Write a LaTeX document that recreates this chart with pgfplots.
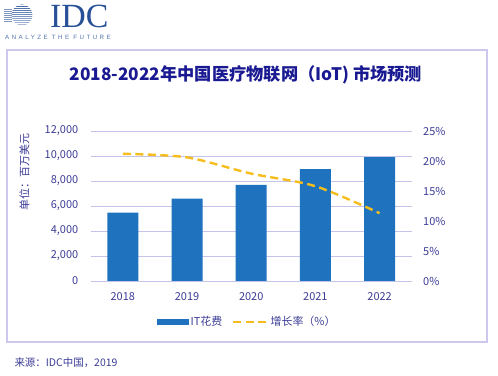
\documentclass[border=0pt]{standalone}
\usepackage{pgfplots}
\pgfplotsset{compat=1.18}
\usepackage{fontspec}
\setmainfont{Noto Sans CJK SC}
\newfontfamily\logoserif{Liberation Serif}
\newfontfamily\logosans[LetterSpace=40]{Liberation Sans}
\definecolor{barblue}{RGB}{31,114,189}
\definecolor{lineyel}{RGB}{245,190,30}
\definecolor{txt}{RGB}{60,60,150}
\definecolor{ttl}{RGB}{25,25,145}
\definecolor{gridc}{RGB}{195,195,235}
\definecolor{framec}{RGB}{205,200,238}
\definecolor{logoblue}{RGB}{40,80,150}
\begin{document}
\begin{tikzpicture}
\path[use as bounding box] (0bp,0bp) rectangle (498bp,376bp);
\begin{scope}[x=1bp,y=1bp]
% logo
\begin{scope}
\clip (22,361) circle (10.5);
\foreach \i in {0,...,10} {
  \pgfmathsetmacro{\c}{40+5*\i}
  \fill[logoblue!\c!white] (8,350.5+2*\i) rectangle (36,351.6+2*\i);
}
\end{scope}
\foreach \i in {2,...,8} {
  \fill[logoblue!60!white] (4,350.5+2*\i) rectangle (12,351.4+2*\i);
}
\node[anchor=west, inner sep=0, font=\logoserif\fontsize{34}{34}\selectfont, text=logoblue] at (50,360) {IDC};
\node[anchor=west, inner sep=0, font=\logosans\fontsize{6.2}{6.2}\selectfont, text=logoblue!80] at (5,339) {ANALYZE THE FUTURE};
% frame
\draw[framec, line width=1.2bp] (7,34) rectangle (487,326);
% title
\node[font=\bfseries\fontsize{17.3}{18}\selectfont, text=ttl] at (246,301) {2018-2022年中国医疗物联网（IoT) 市场预测};
% y label
\node[rotate=90, font=\fontsize{11}{11}\selectfont, text=txt] at (24.5,204) {单位：百万美元};
% source
\node[anchor=west, font=\fontsize{10.5}{11}\selectfont, text=txt] at (11,13) {来源：IDC中国，2019};
\end{scope}

\begin{axis}[
  at={(90.7bp,95bp)}, anchor=south west, scale only axis,
  width=321bp, height=150bp,
  xmin=-0.5, xmax=4.5, ymin=0, ymax=12000,
  xtick={0,1,2,3,4}, xticklabels={2018,2019,2020,2021,2022},
  ytick={0,2000,4000,6000,8000,10000,12000},
  scaled y ticks=false,
  /pgf/number format/assume math mode=true,
  /pgf/number format/1000 sep={,},
  ymajorgrids, grid style={gridc, line width=0.9bp},
  axis line style={draw=none},
  major tick length=0pt,
  tick label style={font=\fontsize{11}{12}\selectfont, text=txt},
  yticklabel style={xshift=-9bp},
  xticklabel style={yshift=-8bp},
  legend style={at={(0.487,-0.273)}, anchor=center, draw=none, fill=none,
    legend columns=2, font=\fontsize{11}{12}\selectfont, text=txt,
    /tikz/every even column/.append style={column sep=8bp}},
  legend cell align=left,
]
\addplot[ybar, bar width=31bp, fill=barblue, draw=none,
  legend image code/.code={\fill[barblue] (0bp,-2.8bp) rectangle (32bp,2.8bp);}]
  coordinates {(0,5460) (1,6590) (2,7680) (3,8940) (4,9900)};
\addlegendentry{IT花费}
\addlegendimage{legend image code/.code={\draw[lineyel, line width=2.4bp, dash pattern=on 8bp off 4.5bp] (0bp,0bp) -- (34bp,0bp);}}
\addlegendentry{增长率（\%）}
\end{axis}

\begin{axis}[
  at={(90.7bp,95bp)}, anchor=south west, scale only axis,
  width=321bp, height=150bp,
  xmin=-0.5, xmax=4.5, ymin=0, ymax=25,
  axis x line=none, axis y line*=right,
  ytick={0,5,10,15,20,25},
  yticklabel={\pgfmathprintnumber{\tick}\%},
  /pgf/number format/assume math mode=true,
  axis line style={draw=none},
  major tick length=0pt,
  tick label style={font=\fontsize{11}{12}\selectfont, text=txt},
  yticklabel style={xshift=8bp},
]
\addplot[lineyel, line width=2.4bp, dash pattern=on 8bp off 4.5bp, smooth]
  coordinates {(0,21.2) (1,20.6) (2,17.9) (3,15.8) (4,11.3)};
\end{axis}
\end{tikzpicture}
\end{document}
